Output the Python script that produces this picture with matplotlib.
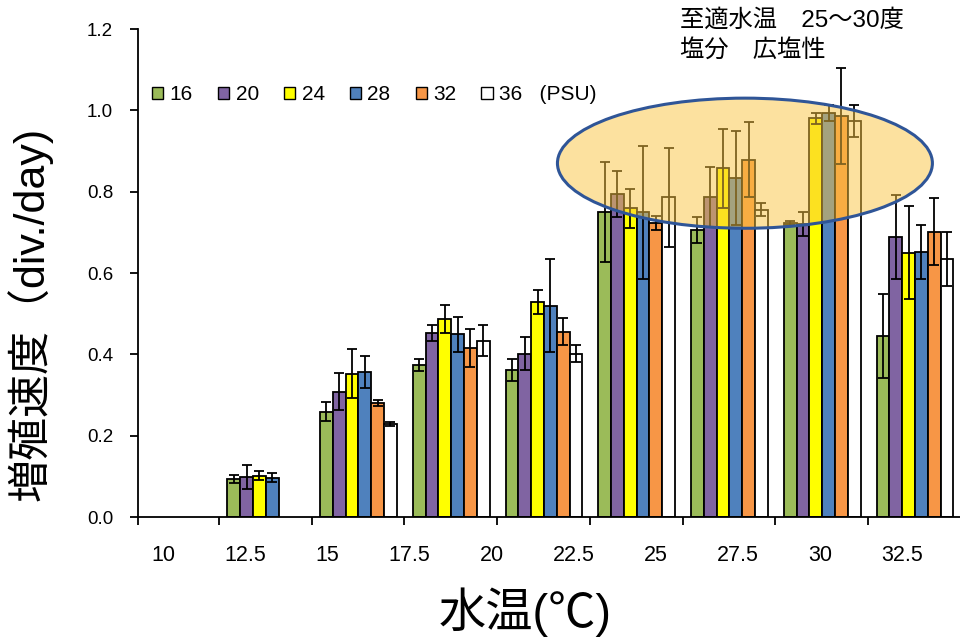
import numpy as np
import matplotlib
matplotlib.use("Agg")
import matplotlib.pyplot as plt
from matplotlib.patches import Ellipse, Patch

plt.rcParams["font.family"] = ["Liberation Sans", "Noto Sans CJK JP", "DejaVu Sans"]

# Salinity series (PSU)
salinities = ["16", "20", "24", "28", "32", "36"]
colors = ["#9BBB59", "#8064A2", "#FFFF00", "#4F81BD", "#F79646", "#FFFFFF"]

# Water-temperature axis labels
temp_labels = ["10", "12.5", "15", "17.5", "20", "22.5", "25", "27.5", "30", "32.5"]

# Growth rate (div./day), one value per temperature slot; nan = not measured
nan = np.nan
rate = {
    "16": [nan, 0.093, 0.259, 0.374, 0.361, 0.749, 0.706, 0.722, 0.445],
    "20": [nan, 0.098, 0.308, 0.452, 0.402, 0.794, 0.786, 0.720, 0.689],
    "24": [nan, 0.102, 0.352, 0.487, 0.528, 0.759, 0.858, 0.980, 0.650],
    "28": [nan, 0.097, 0.357, 0.449, 0.520, 0.749, 0.834, 0.993, 0.652],
    "32": [nan, nan, 0.280, 0.416, 0.456, 0.722, 0.879, 0.987, 0.702],
    "36": [nan, nan, 0.228, 0.434, 0.402, 0.786, 0.755, 0.974, 0.634],
}
# Standard deviations
sd = {
    "16": [nan, 0.010, 0.024, 0.015, 0.027, 0.123, 0.032, 0.005, 0.103],
    "20": [nan, 0.030, 0.045, 0.020, 0.040, 0.057, 0.074, 0.030, 0.103],
    "24": [nan, 0.010, 0.060, 0.035, 0.030, 0.048, 0.097, 0.013, 0.114],
    "28": [nan, 0.012, 0.040, 0.044, 0.115, 0.164, 0.115, 0.020, 0.067],
    "32": [nan, nan, 0.008, 0.047, 0.033, 0.017, 0.092, 0.118, 0.082],
    "36": [nan, nan, 0.005, 0.038, 0.020, 0.121, 0.016, 0.040, 0.066],
}

n_slots = len(rate["16"])
slot = np.arange(n_slots)
bar_w = 0.138
offset0 = 0.09

fig = plt.figure(figsize=(9.6, 6.39), dpi=100)
ax = fig.add_axes([0.14375, 0.1909, 0.85625, 0.7637])

for j, s in enumerate(salinities):
    vals = np.array(rate[s], dtype=float)
    errs = np.array(sd[s], dtype=float)
    left = slot + offset0 + j * bar_w
    ax.bar(left, vals, width=bar_w, align="edge", color=colors[j],
           edgecolor="black", linewidth=1.3, zorder=2)
    ax.errorbar(left + bar_w / 2, vals, yerr=errs, fmt="none", ecolor="black",
                elinewidth=1.3, capsize=3.6, capthick=1.3, zorder=3)

ax.set_ylim(0, 1.2)
x_left = 0.127
ax.set_xlim(x_left, 8.99)

# y axis
ax.set_yticks(np.arange(0, 1.21, 0.2))
ax.set_yticklabels([f"{v:.1f}" for v in np.arange(0, 1.21, 0.2)], fontsize=13.5)
ax.tick_params(axis="y", direction="out", length=6, width=1.3, pad=12)

# x axis: tick marks between temperature slots, labels on their own row
ax.set_xticks(np.concatenate([[x_left], np.arange(1, n_slots)]), minor=True)
ax.tick_params(axis="x", which="minor", direction="out", length=6, width=1.3)
ax.set_xticks(np.linspace(0.40, 8.37, len(temp_labels)))
ax.set_xticklabels(temp_labels, fontsize=15.5)
ax.tick_params(axis="x", which="major", length=0, pad=20)

for side in ["top", "right"]:
    ax.spines[side].set_visible(False)
for side in ["left", "bottom"]:
    ax.spines[side].set_linewidth(1.3)

# optimum range highlight
ell = Ellipse((6.671, 0.870), 4.043, 0.320, facecolor=(0.98, 0.77, 0.25, 0.5),
              edgecolor="#2F5597", linewidth=2.2, zorder=4)
ax.add_patch(ell)

# legend
handles = [Patch(facecolor=c, edgecolor="black", linewidth=1.0) for c in colors]
labels = salinities[:-1] + ["36   (PSU)"]
ax.legend(handles, labels, ncol=6, frameon=False, fontsize=15,
          handlelength=0.55, handleheight=0.55, handletextpad=0.3,
          columnspacing=1.2, loc="center left",
          bbox_to_anchor=(152 / 960, 1 - 95 / 639),
          bbox_transform=fig.transFigure, borderaxespad=0, borderpad=0)

# axis titles
fig.text(30 / 960, 1 - 314 / 639, "増殖速度（div./day)", rotation=90,
         fontsize=31, ha="center", va="center")
fig.text(525 / 960, 1 - 612 / 639, "水温(℃)", fontsize=34,
         ha="center", va="center")

# note
fig.text(680 / 960, 1 - 20 / 639, "至適水温　25～30度", fontsize=17.5,
         ha="left", va="center")
fig.text(680 / 960, 1 - 50 / 639, "塩分　広塩性", fontsize=17.5,
         ha="left", va="center")

fig.savefig("out.png", dpi=100)
